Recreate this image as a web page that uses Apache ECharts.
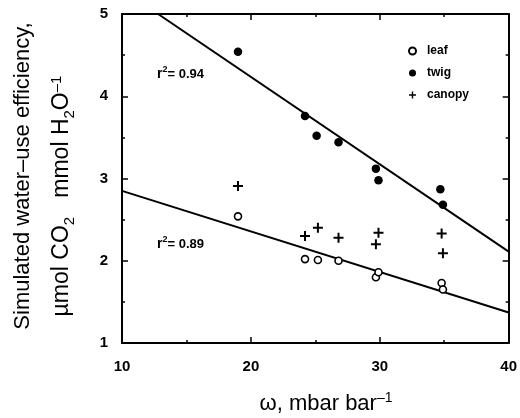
<!DOCTYPE html>
<html><head><meta charset="utf-8">
<script src="https://cdn.jsdelivr.net/npm/echarts@6/dist/echarts.min.js"></script>
<style>html,body{margin:0;padding:0;background:#fff}#c{width:520px;height:418px}</style>
</head><body><div id="c"></div>
<script>
const leafX = [19.0, 24.2, 25.2, 26.8, 29.7, 29.9, 34.8, 34.9];
const leafY = [2.54, 2.02, 2.01, 2.00, 1.80, 1.86, 1.73, 1.65];
const twigX = [19.0, 24.2, 25.1, 26.8, 29.7, 29.9, 34.7, 34.9];
const twigY = [4.54, 3.76, 3.52, 3.44, 3.12, 2.98, 2.87, 2.68];
const canopyX = [19.0, 24.2, 25.2, 26.8, 29.7, 29.9, 34.8, 34.9];
const canopyY = [2.91, 2.30, 2.40, 2.28, 2.20, 2.34, 2.33, 2.09];
const twigFitX = [12.8, 40];
const twigFitY = [5.0, 2.11];
const leafFitX = [10, 40];
const leafFitY = [2.85, 1.37];
const xTicks = {min: 10, max: 40, interval: 10};
const yTicks = {min: 1, max: 5, interval: 1};
const seriesNames = ['leaf', 'twig', 'canopy'];
const r2Labels = ['0.94', '0.89'];

const FONT = 'Liberation Sans, Arial, Helvetica, sans-serif';
const zip = (a, b) => a.map((v, i) => [v, b[i]]);
const plus = 'path://M-1,-5L1,-5L1,-1L5,-1L5,1L1,1L1,5L-1,5L-1,1L-5,1L-5,-1L-1,-1Z';

function axisCommon(extra) {
  return Object.assign({
    type: 'value',
    axisLine: {show: true, onZero: false, lineStyle: {color: '#000', width: 2}},
    axisTick: {show: true, inside: true, length: 6, lineStyle: {color: '#000', width: 1.5}},
    minorTick: {show: true, splitNumber: 2, length: 3, lineStyle: {color: '#000', width: 1.5}},
    splitLine: {show: false},
    axisLabel: {color: '#000', fontFamily: FONT, fontWeight: 'bold', fontSize: 15}
  }, extra);
}

const r2Rich = {
  r: {fontFamily: FONT, fontWeight: 'bold', fontSize: 14, lineHeight: 16, fill: '#000', verticalAlign: 'bottom'},
  s: {fontFamily: FONT, fontWeight: 'bold', fontSize: 9, lineHeight: 9, fill: '#000', verticalAlign: 'top'},
  t: {fontFamily: FONT, fontWeight: 'bold', fontSize: 13, lineHeight: 16, fill: '#000', verticalAlign: 'bottom'}
};

const chart = echarts.init(document.getElementById('c'), null, {renderer: 'canvas'});
chart.setOption({
  animation: false,
  backgroundColor: '#fff',
  grid: {left: 122, right: 11, top: 14, bottom: 75, containLabel: false},
  xAxis: [
    axisCommon(Object.assign({position: 'bottom', axisLabel: {color: '#000', fontFamily: FONT, fontWeight: 'bold', fontSize: 15, margin: 16}}, xTicks)),
    axisCommon(Object.assign({position: 'top', axisLabel: {show: false}}, xTicks))
  ],
  yAxis: [
    axisCommon(Object.assign({position: 'left', axisLabel: {color: '#000', fontFamily: FONT, fontWeight: 'bold', fontSize: 15, margin: 14}}, yTicks)),
    axisCommon(Object.assign({position: 'right', axisLabel: {show: false}}, yTicks))
  ],
  legend: {
    orient: 'vertical', left: 403, top: 40, itemWidth: 7, itemHeight: 7, itemGap: 10,
    textStyle: {color: '#000', fontFamily: FONT, fontWeight: 'bold', fontSize: 12, padding: [0, 0, 0, 6]},
    data: [
      {name: seriesNames[0], icon: 'circle'},
      {name: seriesNames[1], icon: 'circle'},
      {name: seriesNames[2], icon: plus}
    ]
  },
  series: [
    {type: 'line', data: zip(twigFitX, twigFitY), showSymbol: false, symbol: 'none', silent: true,
      lineStyle: {color: '#000', width: 2}, z: 1},
    {type: 'line', data: zip(leafFitX, leafFitY), showSymbol: false, symbol: 'none', silent: true,
      lineStyle: {color: '#000', width: 2}, z: 1},
    {name: seriesNames[0], type: 'scatter', data: zip(leafX, leafY), symbol: 'circle', symbolSize: 7,
      itemStyle: {color: '#fff', borderColor: '#000', borderWidth: 1.6, opacity: 1}, z: 3},
    {name: seriesNames[1], type: 'scatter', data: zip(twigX, twigY), symbol: 'circle', symbolSize: 8.5,
      itemStyle: {color: '#000', opacity: 1}, z: 3},
    {name: seriesNames[2], type: 'scatter', data: zip(canopyX, canopyY), symbol: plus, symbolSize: 10,
      itemStyle: {color: '#000', opacity: 1}, z: 3}
  ],
  graphic: [
    {type: 'text', x: 157, y: 73, style: {
      text: '{r|r}{s|2}{t|= ' + r2Labels[0] + '}', verticalAlign: 'middle', fill: '#000', rich: r2Rich}},
    {type: 'text', x: 157, y: 243, style: {
      text: '{r|r}{s|2}{t|= ' + r2Labels[1] + '}', verticalAlign: 'middle', fill: '#000', rich: r2Rich}},
    {type: 'text', x: 23, y: 176, rotation: Math.PI / 2, style: {
      text: 'Simulated water–use efficiency,', align: 'center', verticalAlign: 'middle',
      fontFamily: FONT, fontSize: 22, fill: '#000'}},
    {type: 'text', x: 62, y: 196, rotation: Math.PI / 2, style: {
      text: '{t|µmol CO}{b|2}{t|   mmol H}{b|2}{t|O}{p|–1}', align: 'center', verticalAlign: 'middle', fill: '#000',
      rich: {t: {fontFamily: FONT, fontSize: 23, lineHeight: 26, fill: '#000', verticalAlign: 'middle'},
             b: {fontFamily: FONT, fontSize: 15, lineHeight: 14, fill: '#000', verticalAlign: 'bottom', padding: [0, 0, -2, 0]},
             p: {fontFamily: FONT, fontSize: 15, lineHeight: 14, fill: '#000', verticalAlign: 'top'}}}},
    {type: 'text', x: 326, y: 404, style: {
      text: '{t|ω, mbar bar}{p|–1}', align: 'center', verticalAlign: 'middle', fill: '#000',
      rich: {t: {fontFamily: FONT, fontSize: 22, lineHeight: 26, fill: '#000', verticalAlign: 'middle'},
             p: {fontFamily: FONT, fontSize: 14, lineHeight: 14, fill: '#000', verticalAlign: 'top'}}}}
  ]
});
</script></body></html>
